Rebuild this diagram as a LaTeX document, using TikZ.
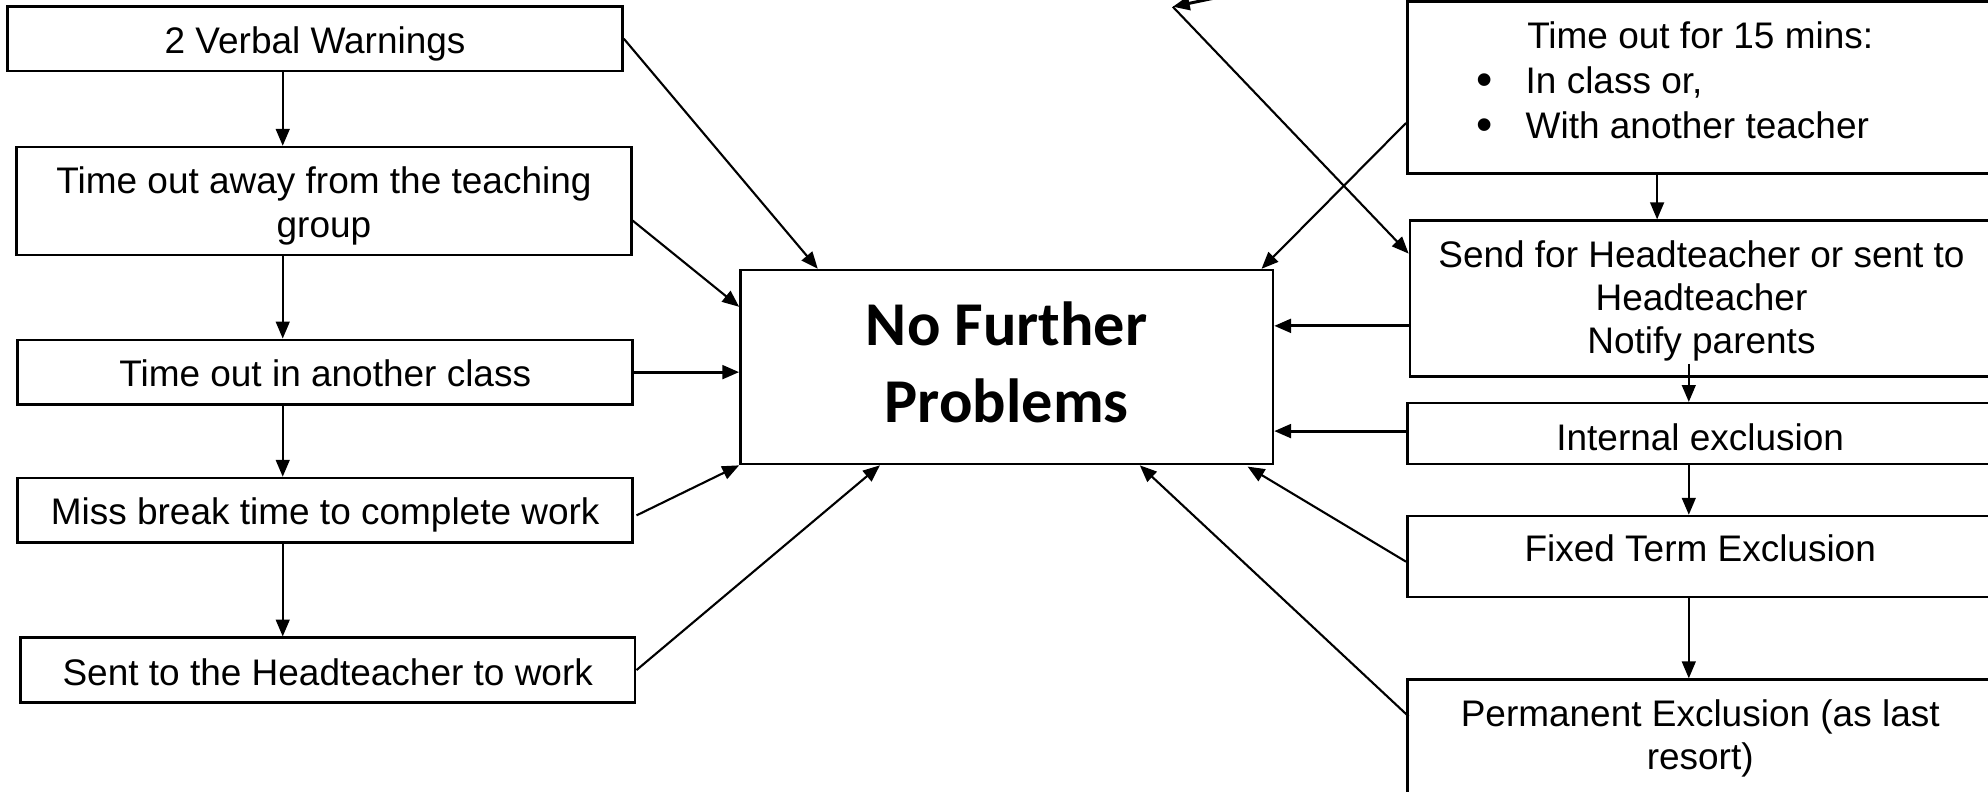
\documentclass[tikz,border=0pt]{standalone}
\usepackage{fontspec}
\setmainfont{Liberation Sans}
\newfontfamily\calib{Carlito}
\usetikzlibrary{arrows.meta,calc,fit}
\newcommand\mylines[1]{\begin{tabular}[t]{@{}c@{}}#1\end{tabular}}
\begin{document}
\begin{tikzpicture}[x=0.6pt,y=-0.6pt,
  box/.style={draw,line width=1.2pt,inner sep=0pt},
  txt/.style={inner sep=0pt,anchor=base,font=\fontsize{17.5}{20.4}\selectfont},
  bul/.style={inner sep=0pt,anchor=base,font=\fontsize{22}{24}\selectfont},
  big/.style={inner sep=0pt,anchor=base,font=\calib\bfseries\fontsize{29.5}{36.6}\selectfont},
  arr/.style={line width=1pt,-{Triangle[length=8pt,width=6.5pt]}},
  harr/.style={line width=1.4pt,-{Triangle[length=8pt,width=6.5pt]}}]
\useasboundingbox (0,0) rectangle (1568,624);

% left column
\node[box,fit={(6,5)(491,56)}] (vw) {};
\node[txt] (vwt) at ($(vw.north)+(0,38.5)$) {2 Verbal Warnings};
\node[box,fit={(13,116)(498,201)}] (toa) {};
\node[txt] (toat) at ($(toa.north)+(0,38)$) {\mylines{Time out away from the teaching\\group}};
\node[box,fit={(14,268)(499,319)}] (toc) {};
\node[txt] (toct) at ($(toc.north)+(0,37.5)$) {Time out in another class};
\node[box,fit={(14,377)(499,428)}] (miss) {};
\node[txt] (misst) at ($(miss.north)+(0,38)$) {Miss break time to complete work};
\node[box,fit={(16,503)(501,554)}] (sent) {};
\node[txt] (sentt) at ($(sent.north)+(0,38.4)$) {Sent to the Headteacher to work};

% centre
\node[box,fit={(584,213)(1004,366)}] (c) {};
\node[big] (ct) at ($(c.north)+(0,60.5)$) {\mylines{No Further\\Problems}};

% right column
\node[box,fit={(1110,1)(1572,137)}] (t15) {};
\node[txt] (t15t) at ($(t15.north)+(0,38)$) {Time out for 15 mins:};
\node[bul] (t15b1) at ($(t15.north west)+(62,75)$) {\textbullet};
\node[txt,anchor=base west] (t15l1) at ($(t15.north west)+(94,74)$) {In class or,};
\node[bul] (t15b2) at ($(t15.north west)+(62,110.5)$) {\textbullet};
\node[txt,anchor=base west] (t15l2) at ($(t15.north west)+(94,109.5)$) {With another teacher};

\node[box,fit={(1112,174)(1572,297)}] (send) {};
\node[txt] (sendt) at ($(send.north)+(0,38)$) {\mylines{Send for Headteacher or sent to\\Headteacher\\Notify parents}};
\node[box,fit={(1110,318)(1572,366)}] (ie) {};
\node[txt] (iet) at ($(ie.north)+(0,38)$) {Internal exclusion};
\node[box,fit={(1110,407)(1572,471)}] (fte) {};
\node[txt] (ftet) at ($(fte.north)+(0,37)$) {Fixed Term Exclusion};
\node[box,fit={(1110,536)(1572,640)}] (pe) {};
\node[txt] (pet) at ($(pe.north)+(0,38)$) {\mylines{Permanent Exclusion (as last\\resort)}};

% column coordinates
\coordinate (colL) at (223,0);
\coordinate (colR) at (1332,0);
\coordinate (colR2) at (1307,0);

% left vertical arrows
\draw[arr] (colL |- vw.south) -- (colL |- toa.north);
\draw[arr] (colL |- toa.south) -- (colL |- toc.north);
\draw[arr] (colL |- toc.south) -- (colL |- miss.north);
\draw[arr] (colL |- miss.south) -- (colL |- sent.north);

% left to centre
\draw[arr] (vw.east) -- ($(c.north west)+(62,0)$);
\draw[arr] ($(toa.east)+(0,15.5)$) -- ($(c.north west)+(0,30)$);
\draw[harr] (toc.east) -- (toc.east -| c.west);
\draw[arr] ($(miss.east)+(2,4)$) -- (c.south west);
\draw[arr] (sent.east) -- ($(c.south west)+(111,0)$);

% right to centre
\draw[arr] ($(t15.north west)+(0,97)$) -- ($(c.north east)+(-10,0)$);
\coordinate (topend) at (965,-3);
\coordinate (tip) at (925,5.3);
\draw[harr] (topend) -- (tip);
\draw[arr] (tip) -- ($(send.north west)+(0,27)$);
\coordinate (s1) at ($(send.west)+(0,21.5)$);
\draw[harr] (s1) -- (s1 -| c.east);
\coordinate (s3) at ($(ie.west)+(0,-2)$);
\draw[harr] (s3) -- (s3 -| c.east);
\draw[arr] ($(fte.west)+(0,4)$) -- ($(c.south east)+(-21,1)$);
\draw[arr] ($(pe.north west)+(2,30)$) -- ($(c.south east)+(-106,0)$);

% right vertical arrows
\draw[arr] (colR2 |- t15.south) -- (colR2 |- send.north);
\coordinate (s2) at ($(colR |- send.south)+(0,-11)$);
\draw[arr] (s2) -- (colR |- ie.north);
\draw[arr] (colR |- ie.south) -- (colR |- fte.north);
\draw[arr] (colR |- fte.south) -- (colR |- pe.north);
\end{tikzpicture}
\end{document}
